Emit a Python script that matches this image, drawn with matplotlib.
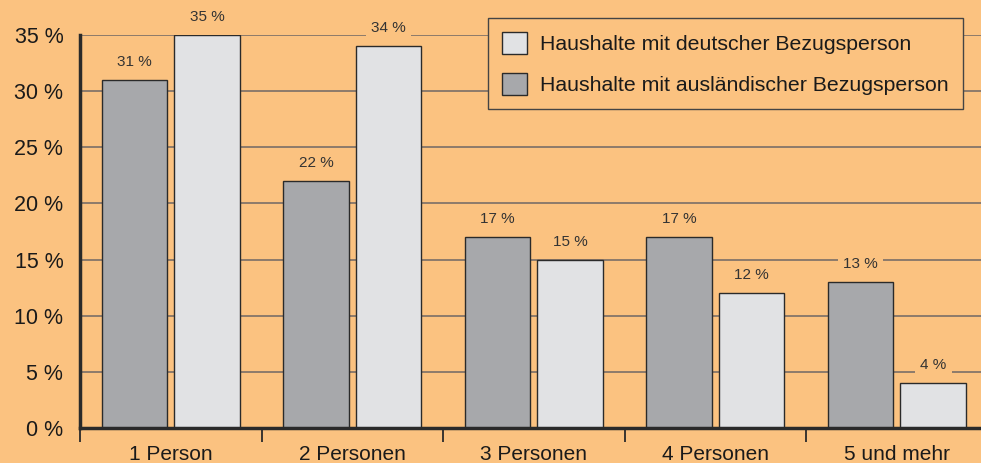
import numpy as np
import matplotlib
matplotlib.use("Agg")
import matplotlib.pyplot as plt
from matplotlib.patches import Patch

# Daten
kategorien = ["1 Person", "2 Personen", "3 Personen", "4 Personen", "5 und mehr"]
auslaendisch = [31, 22, 17, 17, 13]
deutsch = [35, 34, 15, 12, 4]
y_ticks = [0, 5, 10, 15, 20, 25, 30, 35]

bg = "#FBC280"
dunkel = "#A7A8AB"
hell = "#E1E2E4"
rand = "#2a2a2a"
gitter = "#8C7B6B"

plt.rcParams["font.family"] = ["Liberation Sans", "DejaVu Sans"]

fig = plt.figure(figsize=(9.81, 4.63), dpi=100, facecolor=bg)
ax = fig.add_axes([80 / 981, 1 - 428 / 463, 907.5 / 981, 393 / 463])
ax.set_facecolor(bg)

x = np.arange(len(kategorien))
off, w = 0.2, 0.36

for yt in y_ticks[1:]:
    ax.axhline(yt, color=gitter, lw=1.4, zorder=1)

b1 = ax.bar(x - off, auslaendisch, w, color=dunkel, edgecolor=rand, lw=1.0, zorder=2)
b2 = ax.bar(x + off, deutsch, w, color=hell, edgecolor=rand, lw=1.0, zorder=2)

for bars, vals in ((b1, auslaendisch), (b2, deutsch)):
    for b, v in zip(bars, vals):
        ax.text(b.get_x() + b.get_width() / 2, v + 1.6, f"{v} %", ha="center", va="center",
                fontsize=11, color="#333333", zorder=4, clip_on=False,
                bbox=dict(boxstyle="square,pad=0.35", fc=bg, ec="none"))

ax.set_xlim(-0.5, len(kategorien) - 0.5)
ax.set_ylim(0, 35)

ax.set_yticks(y_ticks)
ax.set_yticklabels([f"{t} %" for t in y_ticks], fontsize=15.5, color="#1a1a1a")
ax.tick_params(axis="y", length=0, pad=12)

ax.set_xticks(np.arange(len(kategorien) + 1) - 0.5)
ax.set_xticklabels([])
ax.tick_params(axis="x", which="major", length=10, width=1.3, color=rand, direction="out")
ax.set_xticks(x, minor=True)
ax.set_xticklabels(kategorien, minor=True, fontsize=15, color="#1a1a1a")
ax.tick_params(axis="x", which="minor", length=0, pad=12)

for s in ("top", "right"):
    ax.spines[s].set_visible(False)
ax.spines["bottom"].set_linewidth(2.5)
ax.spines["bottom"].set_color(rand)
ax.spines["left"].set_linewidth(2.5)
ax.spines["left"].set_color(rand)
ax.spines["left"].set_bounds(0, 35)

handles = [Patch(fc=hell, ec=rand, lw=1.0), Patch(fc=dunkel, ec=rand, lw=1.0)]
leg = fig.legend(handles, ["Haushalte mit deutscher Bezugsperson",
                           "Haushalte mit ausländischer Bezugsperson"],
                 loc="upper left", bbox_to_anchor=(488 / 981, 1 - 18 / 463),
                 fontsize=15.3, frameon=True, fancybox=False, facecolor=bg,
                 edgecolor="#444444", handlelength=1.2, handleheight=1.2,
                 handletextpad=0.6, labelspacing=0.9, borderpad=0.65,
                 borderaxespad=0)
for t in leg.get_texts():
    t.set_color("#1a1a1a")
leg.get_frame().set_linewidth(1.0)
leg.get_frame().set_alpha(1)
leg.set_zorder(5)

fig.savefig("out.png", dpi=100, facecolor=bg)
